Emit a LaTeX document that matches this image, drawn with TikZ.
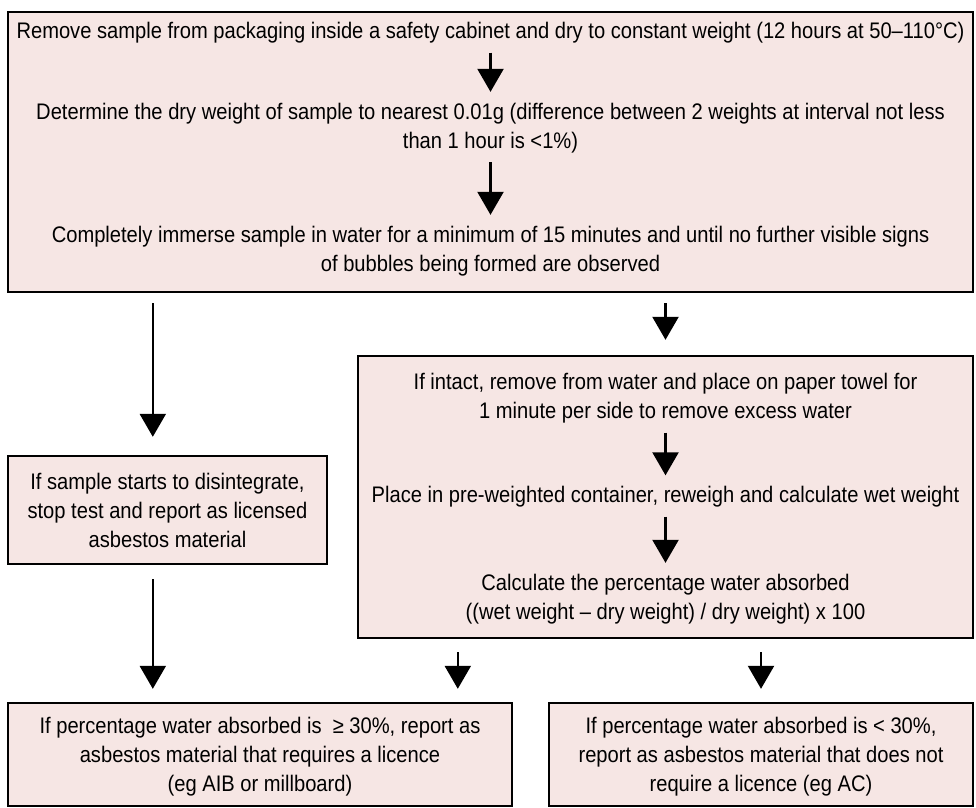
\documentclass[tikz,border=0pt]{standalone}
\usepackage{fontspec}
\setmainfont{Liberation Sans}[FakeStretch=0.895]
\usetikzlibrary{arrows.meta}
\definecolor{boxpink}{RGB}{246,230,228}
\tikzset{
  box/.style={draw, line width=2.4pt, fill=boxpink, inner sep=0pt},
  txt/.style={align=center, inner sep=0pt, font=\fontsize{22.5}{29}\selectfont},
  arr/.style={line width=2.3pt, -{Triangle[width=26pt,length=23pt]}}
}
\begin{document}
\begin{tikzpicture}[x=1pt,y=-1pt]
          \useasboundingbox (0,0) rectangle (976,807);
          % boxes
          \node[box, minimum width=965, minimum height=280] at (490.5,152) (prep) {};
          \node[box, minimum width=615, minimum height=282] at (665.5,497) (wet) {};
          \node[box, minimum width=319, minimum height=108] at (167.5,510) (split) {};
          \node[box, minimum width=504, minimum height=103] at (260,754.5) (high) {};
          \node[box, minimum width=424, minimum height=103] at (761,754.5) (low) {};
          % top box
          \node[txt] at (490.5,33) (r1) {Remove sample from packaging inside a safety cabinet and dry to constant weight (12 hours at 50–110°C)};
          \node[txt] at (490.5,128) (r2) {Determine the dry weight of sample to nearest 0.01g (difference between 2 weights at interval not less\\than 1 hour is <1\%)};
          \node[txt] at (490.5,251) (r3) {Completely immerse sample in water for a minimum of 15 minutes and until no further visible signs\\of bubbles being formed are observed};
          \path[arr] (r1) edge[shorten <=9pt, shorten >=11pt] (r2);
          \path[arr] (r2) edge[shorten <=9pt, shorten >=11pt] (r3);
          % right box
          \node[txt] at (665.5,398.5) (w1) {If intact, remove from water and place on paper towel for\\1 minute per side to remove excess water};
          \node[txt] at (665.5,497) (w2) {Place in pre-weighted container, reweigh and calculate wet weight};
          \node[txt] at (665.5,599) (w3) {Calculate the percentage water absorbed\\((wet weight – dry weight) / dry weight) x 100};
          \path[arr] (w1) edge[shorten <=9pt, shorten >=11pt] (w2);
          \path[arr] (w2) edge[shorten <=9pt, shorten >=11pt] (w3);
          % left and bottom boxes
          \node[txt] at (167.5,510) (s1) {If sample starts to disintegrate,\\stop test and report as licensed\\asbestos material};
          \node[txt] at (260,757) (h1) {If percentage water absorbed is~ ≥ 30\%, report as\\asbestos material that requires a licence\\(eg AIB or millboard)};
          \node[txt] at (761,757) (l1) {If percentage water absorbed is < 30\%,\\report as asbestos material that does not\\require a licence (eg AC)};
          % between boxes
          \draw[arr, shorten <=10pt, shorten >=18pt] ([xshift=146pt]prep.south west) -- ([xshift=146pt]split.north west);
          \draw[arr, shorten <=10pt, shorten >=15pt] (prep.south -| wet.north) -- (wet.north);
          \draw[arr, shorten <=14pt, shorten >=13pt] ([xshift=146pt]split.south west) -- ([xshift=146pt]high.north west);
          \draw[arr, shorten <=13pt, shorten >=13pt] ([xshift=101pt]wet.south west) -- ([xshift=451pt]high.north west);
          \draw[arr, shorten <=13pt, shorten >=13pt] (wet.south -| low.north) -- (low.north);
        \end{tikzpicture}
\end{document}
